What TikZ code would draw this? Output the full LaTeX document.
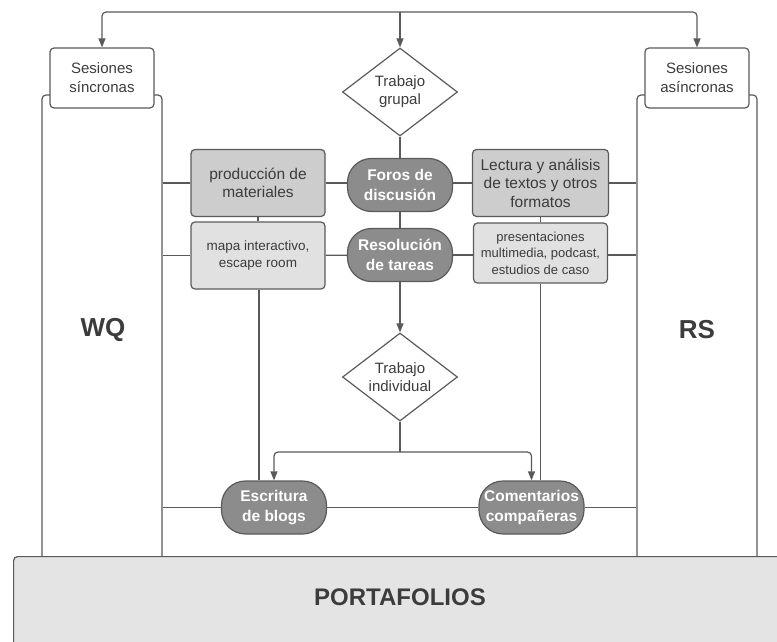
\documentclass[tikz,border=0pt]{standalone}
\usepackage{fontspec}
\setmainfont{Liberation Sans}
\usepackage{tikz}
\usetikzlibrary{shapes.geometric,arrows.meta}
\usepackage{xcolor}
\definecolor{linecol}{HTML}{5A5A5A}
\definecolor{textcol}{HTML}{3C3C3C}
\definecolor{pillfill}{HTML}{8C8C8C}
\definecolor{darkbox}{HTML}{CDCDCD}
\definecolor{lightbox}{HTML}{E1E1E1}
\definecolor{portfill}{HTML}{E4E4E4}

\begin{document}
\begin{tikzpicture}[x=1pt, y=-1pt, >={Triangle[length=9pt,width=7pt]},
    every node/.style={text=textcol, align=center, inner sep=0pt},
    wire/.style={draw=linecol, line width=1.2pt},
    column/.style={draw=linecol, line width=1.2pt, fill=white, rounded corners=4pt, minimum width=120pt, minimum height=470pt},
    session/.style={draw=linecol, line width=1.2pt, fill=white, rounded corners=4pt, minimum width=104pt, minimum height=60pt, font=\fontsize{15}{19}\selectfont},
    choice/.style={diamond, aspect=1.3, draw=linecol, line width=1.2pt, fill=white, minimum width=115pt, minimum height=88pt, font=\fontsize{15}{18}\selectfont},
    activity/.style={draw=linecol, line width=1.2pt, rounded corners=4pt, fill=darkbox, minimum width=134pt, minimum height=67pt, font=\fontsize{15.5}{18.5}\selectfont},
    example/.style={draw=linecol, line width=1.2pt, rounded corners=4pt, fill=lightbox, minimum width=134pt, minimum height=67pt, font=\fontsize{13.5}{16.5}\selectfont},
    pill/.style={draw=linecol, line width=1.2pt, fill=pillfill, rounded corners=24pt, minimum width=105pt, minimum height=53pt, text=white, font=\fontsize{15.5}{19.5}\selectfont\bfseries},
    biglabel/.style={font=\fontsize{26}{30}\selectfont\bfseries}]
    \useasboundingbox (0,0) rectangle (777,642);
    \clip (0,0) rectangle (777,642);

    % side columns
    \node[column] (colWQ) at (102,330) {};
    \node[column] (colRS) at (697,330) {};
    \node[biglabel] (wq) at (103,330) {WQ};
    \node[biglabel] (rs) at (697,330) {RS};

    \node[session] (sinc) at (102,78) {Sesiones\\síncronas};
    \node[session] (asinc) at (697,78) {Sesiones\\asíncronas};

    % central flow
    \node[choice] (grupal) at (400,92) {Trabajo\\grupal};
    \node[pill] (foros) at (400,185) {Foros de\\discusión};
    \node[pill] (resol) at (400,255) {Resolución\\de tareas};
    \node[choice] (indiv) at (400,377) {Trabajo\\individual};
    \node[pill] (blogs) at (274,507.5) {Escritura\\de blogs};
    \node[pill] (coment) at (531.5,507.5) {Comentarios\\compañeras};

    \node[activity] (prod) at (258,183) {producción de\\materiales};
    \node[example] (mapa) at (258,255.5) {mapa interactivo,\\escape room};
    \node[activity, minimum width=136pt] (lect) at (540.5,183) {Lectura y análisis\\de textos y otros\\formatos};
    \node[example, minimum height=60pt, font=\fontsize{13}{16.5}\selectfont] (pres) at (540.5,253) {presentaciones\\multimedia, podcast,\\estudios de caso};

    \node[draw=linecol, line width=1.2pt, fill=portfill, rounded corners=4pt, anchor=north west, minimum width=800pt, minimum height=130pt] (port) at (13,556) {};
    \node[font=\fontsize{24}{28}\selectfont\bfseries] (porttext) at (400,597) {PORTAFOLIOS};

    % top distribution
    \coordinate (top) at (400,12);
    \coordinate (split) at (400,452);
    \draw[wire, ->, rounded corners=4pt] (top) -| (sinc.north);
    \draw[wire, ->, rounded corners=4pt] (top) -| (asinc.north);
    \draw[wire, ->] (top) -- (grupal.north);

    \draw[wire] (grupal) -- (foros);
    \draw[wire] (foros) -- (resol);
    \draw[wire, ->] (resol) -- (indiv.north);
    \draw[wire] (indiv.south) -- (split);
    \draw[wire, ->, rounded corners=4pt] (split) -| (blogs.north);
    \draw[wire, ->, rounded corners=4pt] (split) -| (coment.north);

    % rows
    \draw[wire] (prod.west) -- (prod.west -| colWQ.east);
    \draw[wire] (prod) -- (foros.west |- prod);
    \draw[wire] (foros.east |- lect) -- (lect);
    \draw[wire] (lect.east) -- (lect.east -| colRS.west);
    \draw[wire] (mapa.west) -- (mapa.west -| colWQ.east);
    \draw[wire] (mapa) -- (resol);
    \draw[wire] (resol.east) -- (pres.west |- resol);
    \draw[wire] (pres.east |- resol) -- (colRS.west |- resol);
    \draw[wire] (prod) -- (mapa);
    \draw[wire] (lect) -- (pres);

    \draw[wire] (mapa.south -| 259,0) -- (blogs.north -| 259,0);
    \draw[wire] (pres.south) -- (pres.south |- coment.north);
    \draw[wire] (blogs.west) -- (blogs.west -| colWQ.east);
    \draw[wire] (blogs) -- (coment);
    \draw[wire] (coment.east) -- (coment.east -| colRS.west);
\end{tikzpicture}
\end{document}
